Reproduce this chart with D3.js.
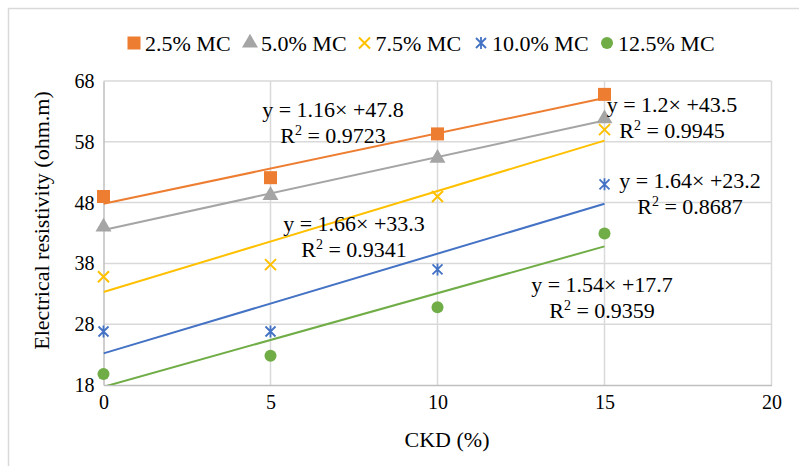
<!DOCTYPE html>
<html>
<head>
<meta charset="utf-8">
<script src="https://cdn.jsdelivr.net/npm/d3@7"></script>
<style>
  html, body { margin: 0; padding: 0; background: #fff; }
  svg, svg text { font-family: 'Liberation Serif', 'Times New Roman', Times, 'DejaVu Serif', serif !important; }
</style>
</head>
<body>
<svg id="chart" width="799" height="466"></svg>
<script>
// ---- data ----
const ckd = [0, 5, 10, 15];
const seriesNames = ["2.5% MC", "5.0% MC", "7.5% MC", "10.0% MC", "12.5% MC"];
const mc25  = [49.0, 52.1, 59.3, 65.8];
const mc50  = [44.0, 49.2, 55.3, 61.8];
const mc75  = [35.8, 37.8, 49.0, 60.0];
const mc100 = [26.8, 26.8, 37.0, 51.0];
const mc125 = [19.8, 22.8, 30.8, 42.9];
const slopes = [1.16, 1.2, 1.66, 1.64, 1.54];
const intercepts = [47.8, 43.5, 33.3, 23.2, 17.7];
const r2Values = ["0.9723", "0.9945", "0.9341", "0.8687", "0.9359"];
const xTicks = [0, 5, 10, 15, 20];
const yTicks = [18, 28, 38, 48, 58, 68];

const allSeries = [mc25, mc50, mc75, mc100, mc125];
const colors = ["#ED7D31", "#A5A5A5", "#FFC000", "#4472C4", "#70AD47"];
const markers = ["square", "triangle", "x", "star", "circle"];
const FONT = "Liberation Serif, Times New Roman, serif";
// label anchor positions (x centre, baseline of first line)
const labelPos = [[333, 117], [672, 112], [354, 231], [690, 188], [602, 292]];

const svg = d3.select("#chart").attr("font-family", FONT);
const x = d3.scaleLinear().domain([0, 20]).range([103.5, 771.5]);
const y = d3.scaleLinear().domain([18, 68]).range([385, 81]);

// outer chart border
svg.append("rect").attr("x", 8.5).attr("y", 8.5).attr("width", 820).attr("height", 480)
  .attr("fill", "none").attr("stroke", "#d9d9d9").attr("stroke-width", 1.5);

// gridlines
svg.append("g").selectAll("line").data(yTicks.slice(1)).join("line")
  .attr("x1", x(0)).attr("x2", x(20)).attr("y1", d => y(d)).attr("y2", d => y(d))
  .attr("stroke", "#d9d9d9").attr("stroke-width", 1.5);
svg.append("g").selectAll("line").data(xTicks.slice(1)).join("line")
  .attr("x1", d => x(d)).attr("x2", d => x(d)).attr("y1", y(18)).attr("y2", y(68))
  .attr("stroke", "#d9d9d9").attr("stroke-width", 1.5);

// axes
const xAxis = svg.append("g").attr("transform", `translate(0,${y(18)})`)
  .call(d3.axisBottom(x).tickValues(xTicks).tickSize(0).tickPadding(10));
xAxis.attr("font-family", FONT).attr("font-size", 20);
xAxis.select(".domain").attr("stroke", "#bfbfbf").attr("stroke-width", 1.5);
xAxis.selectAll("text").attr("fill", "#000");

const yAxis = svg.append("g").attr("transform", `translate(${x(0)},0)`)
  .call(d3.axisLeft(y).tickValues(yTicks).tickSize(0).tickPadding(9));
yAxis.attr("font-family", FONT).attr("font-size", 20);
yAxis.select(".domain").attr("stroke", "#bfbfbf").attr("stroke-width", 1.5);
yAxis.selectAll("text").attr("fill", "#000");

// clip
svg.append("clipPath").attr("id", "plotclip").append("rect")
  .attr("x", x(0)).attr("y", y(68) - 20).attr("width", x(20) - x(0)).attr("height", y(18) - y(68) + 20);

// trendlines
const tl = svg.append("g").attr("clip-path", "url(#plotclip)");
slopes.forEach((s, i) => {
  tl.append("line")
    .attr("x1", x(0)).attr("y1", y(intercepts[i]))
    .attr("x2", x(15)).attr("y2", y(intercepts[i] + s * 15))
    .attr("stroke", colors[i]).attr("stroke-width", 2);
});

function drawMarker(g, type, color, cx, cy) {
  if (type === "square") {
    g.append("rect").attr("x", cx - 6.5).attr("y", cy - 6.5).attr("width", 13).attr("height", 13).attr("fill", color);
  } else if (type === "triangle") {
    g.append("path").attr("d", d3.symbol().type(d3.symbolTriangle).size(110)())
      .attr("transform", `translate(${cx},${cy})`).attr("fill", color);
  } else if (type === "circle") {
    g.append("circle").attr("cx", cx).attr("cy", cy).attr("r", 6).attr("fill", color);
  } else if (type === "x") {
    const r = 5.5;
    g.append("path").attr("d", `M${cx - r},${cy - r}L${cx + r},${cy + r}M${cx - r},${cy + r}L${cx + r},${cy - r}`)
      .attr("stroke", color).attr("stroke-width", 2).attr("fill", "none");
  } else if (type === "star") {
    const r = 5;
    g.append("path").attr("d", `M${cx - r},${cy - r}L${cx + r},${cy + r}M${cx - r},${cy + r}L${cx + r},${cy - r}M${cx},${cy - r - 1}L${cx},${cy + r + 1}`)
      .attr("stroke", color).attr("stroke-width", 1.8).attr("fill", "none");
  }
}

// data markers
const mg = svg.append("g");
allSeries.forEach((vals, i) => {
  vals.forEach((v, j) => drawMarker(mg, markers[i], colors[i], x(ckd[j]), y(v)));
});

// equation labels
const lg = svg.append("g").attr("font-size", 22).attr("fill", "#000").attr("text-anchor", "middle");
slopes.forEach((s, i) => {
  const [cx, by] = labelPos[i];
  lg.append("text").attr("x", cx).attr("y", by)
    .text(`y = ${s}\u00d7 +${intercepts[i]}`);
  const t = lg.append("text").attr("x", cx).attr("y", by + 25.5);
  t.append("tspan").text("R");
  t.append("tspan").attr("font-size", 14).attr("dy", -8).text("2");
  t.append("tspan").attr("dy", 8).text(" = " + r2Values[i]);
});

// legend
const legX = [134, 250, 364.5, 481, 607];
const leg = svg.append("g");
seriesNames.forEach((name, i) => {
  drawMarker(leg, markers[i], colors[i], legX[i], 43);
  leg.append("text").attr("x", legX[i] + 11).attr("y", 50.5)
    .attr("font-size", 22).attr("fill", "#000").text(name);
});

// axis titles
svg.append("text").attr("x", 447).attr("y", 447).attr("text-anchor", "middle")
  .attr("font-size", 22).attr("fill", "#000").text("CKD (%)");
svg.append("text").attr("transform", "translate(49,220.5) rotate(-90)").attr("text-anchor", "middle")
  .attr("font-size", 22).attr("fill", "#000").text("Electrical resistivity (ohm.m)");
</script>
</body>
</html>
